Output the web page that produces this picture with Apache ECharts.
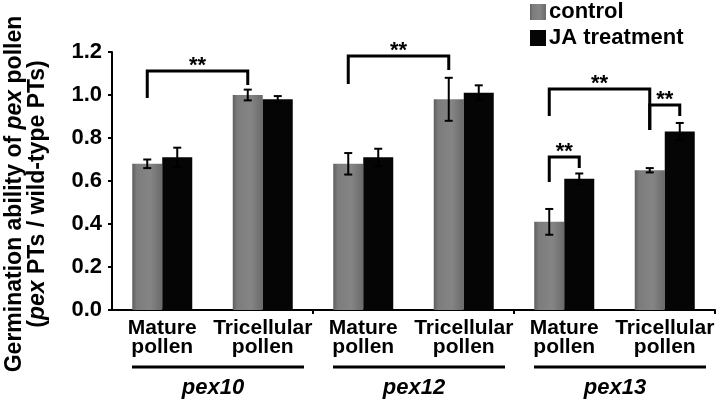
<!DOCTYPE html>
<html>
<head>
<meta charset="utf-8">
<script src="https://cdn.jsdelivr.net/npm/echarts@6/dist/echarts.min.js"></script>
<style>html,body{margin:0;padding:0;background:#fff;}#c{width:720px;height:402px;}</style>
</head>
<body>
<div id="c"></div>
<script>
// ---- data ----
var categories = ['Mature\npollen', 'Tricellular\npollen', 'Mature\npollen', 'Tricellular\npollen', 'Mature\npollen', 'Tricellular\npollen'];
var groups = ['pex10', 'pex12', 'pex13'];
var groupSpans = [[0, 1], [2, 3], [4, 5]];
var seriesNames = ['control', 'JA treatment'];
var control = [0.68, 1.00, 0.68, 0.98, 0.41, 0.65];
var controlErr = [0.02, 0.025, 0.05, 0.10, 0.06, 0.01];
var ja = [0.71, 0.98, 0.71, 1.01, 0.61, 0.83];
var jaErr = [0.045, 0.015, 0.04, 0.035, 0.025, 0.04];
var yTicks = [0, 0.2, 0.4, 0.6, 0.8, 1.0, 1.2];
// significance brackets: [fromCat, fromSeries, toCat, toSeries, topValue, leftLegEnd, rightLegEnd]
var brackets = [
  [0, 0, 1, 0, 1.112, 0.986, 1.047],
  [2, 0, 3, 0, 1.181, 1.051, 1.116],
  [4, 0, 5, 0, 1.028, 0.902, 0.837],
  [5, 0, 5, 1, 0.953, 0.837, 0.902],
  [4, 0, 4, 1, 0.712, 0.595, 0.660]
];
var sigLabel = '**';

// ---- chart ----
var BAR_W = 30;
var FONT = '"Liberation Sans", Arial, sans-serif';
var chart = echarts.init(document.getElementById('c'));

function off(s) { return s === 0 ? -BAR_W / 2 : BAR_W / 2; }

var errData = [];
control.forEach(function (v, i) { errData.push([i, v, controlErr[i], 0]); });
ja.forEach(function (v, i) { errData.push([i, v, jaErr[i], 1]); });

var option = {
  animation: false,
  backgroundColor: '#fff',
  grid: { left: 112, right: 5, top: 52, bottom: 92, outerBoundsMode: 'none', outerBounds: { left: -200, right: -200, top: -200, bottom: -200 } },
  legend: {
    data: seriesNames,
    orient: 'vertical',
    left: 525, top: -4,
    itemWidth: 16, itemHeight: 16, itemGap: 4,
    icon: 'rect',
    textStyle: { color: '#000', fontWeight: 'bold', fontSize: 22, fontFamily: FONT, padding: [0, 0, 0, -2] }
  },
  xAxis: {
    type: 'category',
    data: categories,
    axisLine: { lineStyle: { color: '#000', width: 2 } },
    axisTick: { show: true, length: 4, lineStyle: { color: '#000', width: 2 }, interval: function (i) { return i === 2 || i === 4; } },
    axisLabel: { interval: 0, color: '#000', fontWeight: 'bold', fontSize: 21, fontFamily: FONT, lineHeight: 19, margin: 9 }
  },
  yAxis: {
    type: 'value',
    min: 0, max: 1.2, interval: 0.2,
    splitLine: { show: false },
    axisLine: { show: true, lineStyle: { color: '#000', width: 2 } },
    axisTick: { show: true, inside: false, length: 4, lineStyle: { color: '#000', width: 2 } },
    axisLabel: {
      color: '#000', fontWeight: 'bold', fontSize: 22, fontFamily: FONT, margin: 10,
      formatter: function (v) { return yTicks.indexOf(Math.round(v * 10) / 10) >= 0 ? v.toFixed(1) : ''; }
    },
    name: '{n|Germination ability of }{i|pex}{n| pollen}\n{n|(}{i|pex}{n| PTs / wild-type PTs)}',
    nameLocation: 'middle',
    nameRotate: 90,
    nameGap: 63,
    nameTextStyle: {
      color: '#000', fontFamily: FONT, fontWeight: 'bold', fontSize: 23, lineHeight: 23,
      padding: [0, 26, 0, 0],
      rich: {
        n: { color: '#000', fontFamily: FONT, fontWeight: 'bold', fontSize: 23, lineHeight: 23 },
        i: { color: '#000', fontFamily: FONT, fontWeight: 'bold', fontStyle: 'italic', fontSize: 23, lineHeight: 23 }
      }
    }
  },
  series: [
    {
      name: seriesNames[0], type: 'bar', data: control, barWidth: BAR_W, barGap: '0%',
      itemStyle: {
        color: new echarts.graphic.LinearGradient(0, 0, 1, 0, [
          { offset: 0, color: '#5f5f5f' }, { offset: 0.15, color: '#7c7c7c' },
          { offset: 0.6, color: '#858585' }, { offset: 1, color: '#6a6a6a' }
        ])
      }
    },
    {
      name: seriesNames[1], type: 'bar', data: ja, barWidth: BAR_W, barGap: '0%',
      itemStyle: { color: '#050505' }
    },
    {
      type: 'custom', name: 'err', silent: true, z: 5,
      data: errData,
      renderItem: function (params, api) {
        var c = api.value(0), v = api.value(1), e = api.value(2), s = api.value(3);
        var pHi = api.coord([c, v + e]);
        var pLo = api.coord([c, v - e]);
        var x = pHi[0] + off(s);
        var cap = 4;
        var st = { stroke: '#000', lineWidth: 2 };
        return {
          type: 'group', children: [
            { type: 'line', shape: { x1: x, y1: pHi[1], x2: x, y2: pLo[1] }, style: st },
            { type: 'line', shape: { x1: x - cap, y1: pHi[1], x2: x + cap, y2: pHi[1] }, style: st },
            { type: 'line', shape: { x1: x - cap, y1: pLo[1], x2: x + cap, y2: pLo[1] }, style: st }
          ]
        };
      }
    },
    {
      type: 'custom', name: 'sig', silent: true, z: 6,
      data: brackets,
      renderItem: function (params, api) {
        var c1 = api.value(0), s1 = api.value(1), c2 = api.value(2), s2 = api.value(3);
        var top = api.value(4), l = api.value(5), r = api.value(6);
        var pt = api.coord([c1, top]);
        var pl = api.coord([c1, l]);
        var pr = api.coord([c2, r]);
        var x1 = pt[0] + off(s1);
        var x2 = api.coord([c2, top])[0] + off(s2);
        var st = { stroke: '#000', lineWidth: 3, fill: null, lineJoin: 'miter' };
        return {
          type: 'group', children: [
            { type: 'polyline', shape: { points: [[x1, pl[1]], [x1, pt[1]], [x2, pt[1]], [x2, pr[1]]] }, style: st },
            { type: 'text', style: { text: sigLabel, x: (x1 + x2) / 2, y: pt[1] + 6, align: 'center', verticalAlign: 'bottom', fill: '#000', font: 'bold 22px ' + FONT } }
          ]
        };
      }
    },
    {
      type: 'custom', name: 'groups', silent: true, z: 6, clip: false,
      data: groupSpans,
      renderItem: function (params, api) {
        var a = api.value(0), b = api.value(1);
        var band = api.size([1, 0])[0];
        var pa = api.coord([a, 0]);
        var pb = api.coord([b, 0]);
        var xs = pa[0] - band / 2 + 20, xe = pb[0] + band / 2 - 9;
        var y = pa[1] + 57;
        return {
          type: 'group', children: [
            { type: 'line', shape: { x1: xs, y1: y, x2: xe, y2: y }, style: { stroke: '#000', lineWidth: 3 } },
            { type: 'text', style: { text: groups[params.dataIndex], x: (xs + xe) / 2 - 5, y: y + 21, align: 'center', verticalAlign: 'middle', fill: '#000', font: 'italic bold 22px ' + FONT } }
          ]
        };
      }
    }
  ]
};
chart.setOption(option);
</script>
</body>
</html>
